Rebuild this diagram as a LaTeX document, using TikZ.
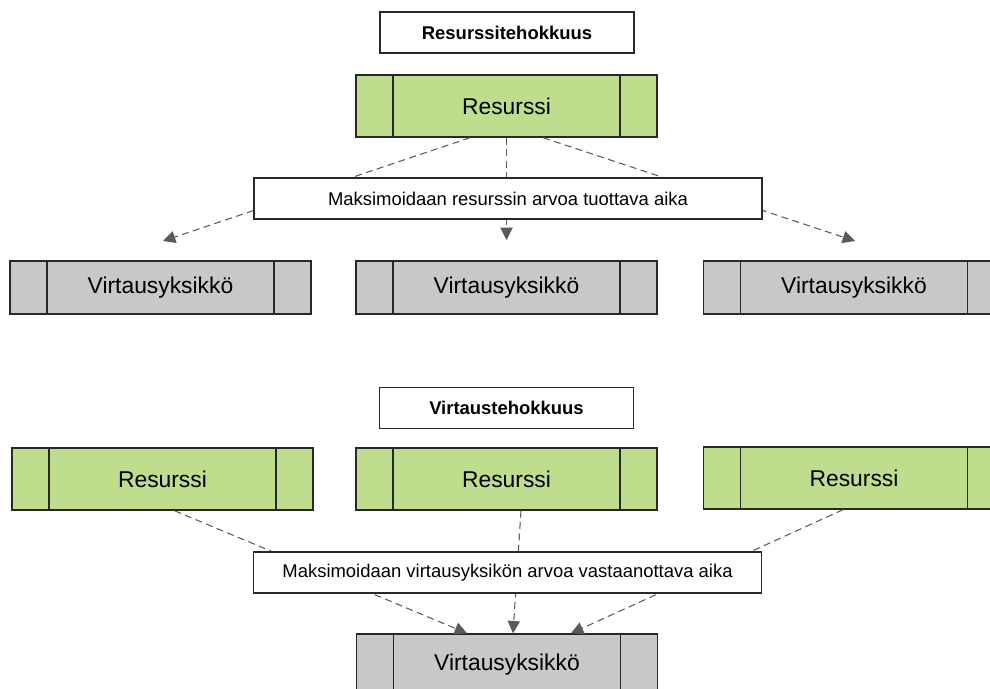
\documentclass[tikz,border=0pt]{standalone}
\usepackage{fontspec}
\setmainfont{Liberation Sans}
\usetikzlibrary{arrows.meta, positioning}
\definecolor{resgreen}{RGB}{190,222,142}
\definecolor{unitgray}{RGB}{200,200,200}
\definecolor{edgegray}{RGB}{40,40,40}
\definecolor{dashgray}{RGB}{90,90,90}
\tikzset{
  heading/.style={
    rectangle, draw=edgegray, line width=0.8pt, fill=white,
    text centered, minimum width=5.08cm, minimum height=0.82cm,
    font=\fontsize{10.5}{12}\selectfont\bfseries
  },
  goal/.style={
    rectangle, draw=edgegray, line width=0.8pt, fill=white,
    text centered, minimum width=10.16cm, minimum height=0.82cm,
    font=\fontsize{10.5}{12}\selectfont
  },
  sidebars/.style={
    path picture={
      \draw[edgegray, line width=0.8pt]
        ([xshift=0.74cm]path picture bounding box.north west) --
        ([xshift=0.74cm]path picture bounding box.south west)
        ([xshift=-0.74cm]path picture bounding box.north east) --
        ([xshift=-0.74cm]path picture bounding box.south east);
    }
  },
  resource/.style={
    rectangle, draw=edgegray, line width=0.8pt, fill=resgreen, sidebars,
    text centered, minimum width=6.02cm, minimum height=1.24cm,
    font=\fontsize{13}{15}\selectfont
  },
  flowunit/.style={
    rectangle, draw=edgegray, line width=0.8pt, fill=unitgray, sidebars,
    text centered, minimum width=6.02cm, minimum height=1.06cm,
    font=\fontsize{13}{15}\selectfont
  },
  darr/.style={-{Triangle[length=7pt, width=7pt]}, dashgray, line width=0.6pt,
    dash pattern=on 4pt off 2.5pt},
}

\begin{document}
\begin{tikzpicture}[x=0.02cm, y=-0.02cm]
  \clip (0,0) rectangle (990,689);
  \fill[white] (0,0) rectangle (990,689);

  % ── resource efficiency ───────────────────────────────────────────────────
  \node[heading]  (head1) at (507,32.5)  {Resurssitehokkuus};
  \node[resource] (res)   at (506.5,106) {Resurssi};
  \node[flowunit] (unit1) at (160.5,287.5) {Virtausyksikkö};
  \node[flowunit] (unit2) at (506.5,287.5) {Virtausyksikkö};
  \node[flowunit] (unit3) at (854,287.5)   {Virtausyksikkö};

  % arrow ends (above the flow units)
  \coordinate (tip1) at (163,241);
  \coordinate (tip2) at (506.5,240);
  \coordinate (tip3) at (855,241);

  \draw[darr] ([xshift=-0.73cm]res.south) -- (tip1);
  \draw[darr] (res.south)                 -- (tip2);
  \draw[darr] ([xshift=0.73cm]res.south)  -- (tip3);

  \node[goal] (maxres) at (508,198.5) {Maksimoidaan resurssin arvoa tuottava aika};

  % ── flow efficiency ───────────────────────────────────────────────────────
  \node[heading]  (head2) at (506.5,408) {Virtaustehokkuus};
  \node[resource] (resA)  at (162.5,479) {Resurssi};
  \node[resource] (resB)  at (506.5,479) {Resurssi};
  \node[resource] (resC)  at (854,478)   {Resurssi};
  \node[resource, fill=unitgray] (unitB) at (507,665) {Virtausyksikkö};

  \draw[darr] ([xshift=0.24cm]resA.south)  -- ([xshift=-0.8cm]unitB.north);
  \draw[darr] ([xshift=0.29cm]resB.south)  -- ([xshift=0.12cm]unitB.north);
  \draw[darr] ([xshift=-0.22cm]resC.south) -- ([xshift=1.28cm]unitB.north);

  \node[goal] (maxflow) at (507.5,572.5) {Maksimoidaan virtausyksikön arvoa vastaanottava aika};

\end{tikzpicture}
\end{document}
